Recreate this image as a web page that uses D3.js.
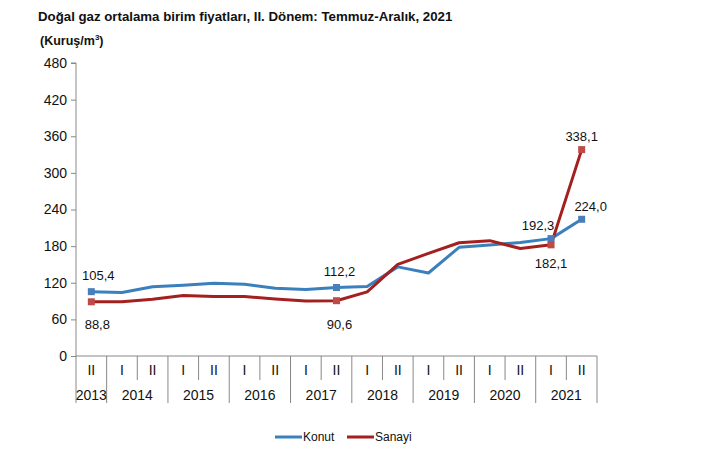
<!DOCTYPE html>
<html><head><meta charset="utf-8">
<script src="https://cdn.jsdelivr.net/npm/d3@7"></script>
<style>body{margin:0;background:#fff;}svg{display:block;font-family:"Liberation Sans",Arial,sans-serif;}</style>
</head><body><svg id="c" width="715" height="458"></svg>
<script>
const periods = ["II","I","II","I","II","I","II","I","II","I","II","I","II","I","II","I","II"];
const years = ["2013","2014","2015","2016","2017","2018","2019","2020","2021"];
const konut = [105.4,104,113.5,116,119,117.5,111,109,112.2,114,146,136,178,182,186,192.3,224.0];
const sanayi = [88.8,89,93,99,97.5,97.5,93.5,90,90.6,105,150,168,185.5,189,176,182.1,338.1];
const yTicks = [0,60,120,180,240,300,360,420,480];
const markerIdx = [0,8,15,16];
const konutLabels = {0:"105,4",8:"112,2",15:"192,3",16:"224,0"};
const sanayiLabels = {0:"88,8",8:"90,6",15:"182,1",16:"338,1"};

const svg = d3.select("#c");
const x0 = 76, x1 = 597, yTop = 63, yBot = 356;
const x = d3.scaleBand().domain(d3.range(periods.length)).range([x0,x1]);
const y = d3.scaleLinear().domain([0,480]).range([yBot,yTop]);
const cx = i => x(i) + x.bandwidth()/2;

svg.append("text").attr("x",38).attr("y",21).attr("font-size",13.25).attr("font-weight","bold").attr("fill","#111")
  .text("Doğal gaz ortalama birim fiyatları, II. Dönem: Temmuz-Aralık, 2021");
const t2 = svg.append("text").attr("x",40).attr("y",45).attr("font-size",12.5).attr("font-weight","bold").attr("fill","#111");
t2.append("tspan").text("(Kuruş/m");
t2.append("tspan").attr("font-size",8).attr("dy",-5).text("3");
t2.append("tspan").attr("dy",5).text(")");

// y axis
const ya = d3.axisLeft(y).tickValues(yTicks).tickSize(5).tickPadding(4).tickFormat(d3.format("d"));
const gy = svg.append("g").attr("transform",`translate(${x0},0)`).call(ya);
gy.select(".domain").attr("stroke","#888").attr("d",`M-5,${yTop}H0V${yBot}`);
gy.selectAll(".tick line").attr("stroke","#888");
gy.selectAll(".tick text").attr("font-size",14).attr("fill","#111").attr("font-family","Liberation Sans, Arial, sans-serif");

// x axis baseline and dividers
const gx = svg.append("g");
gx.append("line").attr("x1",x0).attr("x2",x1).attr("y1",yBot).attr("y2",yBot).attr("stroke","#888");
const bounds = d3.range(periods.length+1);
gx.selectAll("line.div").data(bounds).join("line")
  .attr("x1",i => i<periods.length ? x(i) : x1).attr("x2",i => i<periods.length ? x(i) : x1)
  .attr("y1",yBot).attr("y2",i => (i%2===1 || i===0 || i===periods.length) ? 403 : 380)
  .attr("stroke","#888");
gx.selectAll("text.per").data(periods).join("text")
  .attr("x",(d,i)=>cx(i)).attr("y",375).attr("text-anchor","middle").attr("font-size",14).attr("fill","#111").text(d=>d);
gx.selectAll("text.yr").data(years).join("text")
  .attr("x",(d,i)=> i===0 ? cx(0) : (x(2*i-1)+x(2*i)+x.bandwidth())/2)
  .attr("y",400).attr("text-anchor","middle").attr("font-size",14).attr("fill","#111").text(d=>d);

const line = d3.line().x((d,i)=>cx(i)).y(d=>y(d));
svg.append("path").datum(konut).attr("d",line).attr("fill","none").attr("stroke","#3a80bd").attr("stroke-width",3).attr("stroke-linejoin","round");
svg.append("path").datum(sanayi).attr("d",line).attr("fill","none").attr("stroke","#a3201f").attr("stroke-width",3).attr("stroke-linejoin","round");

svg.selectAll("rect.mk").data(markerIdx).join("rect")
  .attr("x",i=>cx(i)-3.5).attr("y",i=>y(konut[i])-3.5).attr("width",7).attr("height",7).attr("fill","#4a7ebb");
svg.selectAll("rect.ms").data(markerIdx).join("rect")
  .attr("x",i=>cx(i)-3.5).attr("y",i=>y(sanayi[i])-3.5).attr("width",7).attr("height",7).attr("fill","#be4b48");

const lbl = (txt, px, py) => svg.append("text").attr("x",px).attr("y",py).attr("text-anchor","middle").attr("font-size",13).attr("fill","#111").text(txt);
lbl(konutLabels[0], cx(0)+7, y(konut[0])-12);
lbl(sanayiLabels[0], cx(0)+6, y(sanayi[0])+27);
lbl(konutLabels[8], cx(8)+3, y(konut[8])-12);
lbl(sanayiLabels[8], cx(8)+3, y(sanayi[8])+28);
lbl(konutLabels[15], cx(15)-13, y(konut[15])-9);
lbl(sanayiLabels[15], cx(15)+0, y(sanayi[15])+23);
lbl(sanayiLabels[16], cx(16)+0, y(sanayi[16])-9);
lbl(konutLabels[16], cx(16)+9, y(konut[16])-8);

// legend
const lg = svg.append("g");
lg.append("line").attr("x1",275).attr("x2",302).attr("y1",437).attr("y2",437).attr("stroke","#3a80bd").attr("stroke-width",3);
lg.append("text").attr("x",303).attr("y",441).attr("font-size",12).attr("fill","#111").text("Konut");
lg.append("line").attr("x1",347).attr("x2",374).attr("y1",437).attr("y2",437).attr("stroke","#a3201f").attr("stroke-width",3);
lg.append("text").attr("x",375).attr("y",441).attr("font-size",12).attr("fill","#111").text("Sanayi");
</script></body></html>
